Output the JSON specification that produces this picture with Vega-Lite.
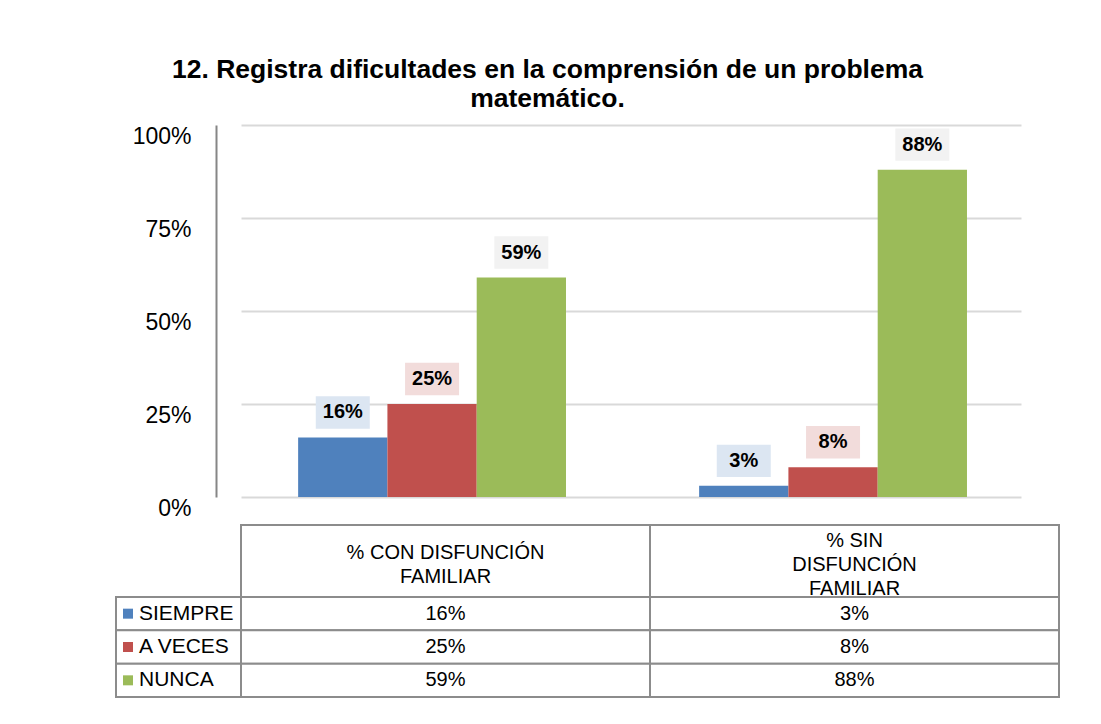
{
  "$schema": "https://vega.github.io/schema/vega-lite/v6.json",
  "padding": {"left": 115, "top": 56, "right": 40, "bottom": 20},
  "background": "white",
  "title": {
    "text": ["12. Registra dificultades en la comprensión de un problema", "matemático."],
    "font": "Liberation Sans",
    "fontSize": 26.5,
    "fontWeight": "bold",
    "color": "black",
    "lineHeight": 29,
    "anchor": "middle",
    "dx": -40,
    "offset": 13
  },
  "datasets": {
    "d": [
      {"grupo": "% CON DISFUNCIÓN\nFAMILIAR", "serie": "SIEMPRE", "valor": 0.16},
      {"grupo": "% CON DISFUNCIÓN\nFAMILIAR", "serie": "A VECES", "valor": 0.25},
      {"grupo": "% CON DISFUNCIÓN\nFAMILIAR", "serie": "NUNCA", "valor": 0.59},
      {"grupo": "% SIN\nDISFUNCIÓN\nFAMILIAR", "serie": "SIEMPRE", "valor": 0.03},
      {"grupo": "% SIN\nDISFUNCIÓN\nFAMILIAR", "serie": "A VECES", "valor": 0.08},
      {"grupo": "% SIN\nDISFUNCIÓN\nFAMILIAR", "serie": "NUNCA", "valor": 0.88}
    ]
  },
  "columns": 2,
  "spacing": 0,
  "bounds": "flush",
  "concat": [
    {"width": 125, "height": 400, "data": {"values": []}, "mark": {"type": "rect", "opacity": 0}, "encoding": {}},
    {
      "width": 780,
      "height": 400,
      "data": {"name": "d"},
      "encoding": {
        "x": {"field": "grupo", "type": "nominal", "sort": null, "axis": null,
              "scale": {"paddingInner": 0.332, "paddingOuter": 0.1386, "align": 0.514}},
        "xOffset": {"field": "serie", "type": "nominal", "sort": null,
                    "scale": {"paddingInner": 0, "paddingOuter": 0}},
        "y": {"field": "valor", "type": "quantitative",
              "scale": {"domain": [0, 1], "range": [372, 0], "nice": false},
              "axis": {"values": [0, 0.25, 0.5, 0.75, 1], "format": ".0%", "title": null,
                       "offset": 25, "ticks": false, "labelPadding": 25, "labelFontSize": 23,
                       "labelFont": "Liberation Sans", "labelColor": "black", "labelBaseline": "top",
                       "domainColor": "#868686", "domainWidth": 2,
                       "grid": true, "gridColor": "#d9d9d9", "gridWidth": 2}}
      },
      "layer": [
        {"mark": {"type": "bar"},
         "encoding": {"color": {"field": "serie", "type": "nominal", "sort": null, "legend": null,
                                "scale": {"domain": ["SIEMPRE", "A VECES", "NUNCA"], "range": ["#4f81bd", "#c0504d", "#9bbb59"]}}}},
        {"mark": {"type": "point", "shape": "M-1,-0.6L1,-0.6L1,0.6L-1,0.6Z", "size": 2916, "filled": true, "opacity": 1, "strokeWidth": 0, "yOffset": -25},
         "encoding": {"fill": {"field": "serie", "type": "nominal", "legend": null,
                               "scale": {"domain": ["SIEMPRE", "A VECES", "NUNCA"], "range": ["#dce6f2", "#f2dcdb", "#f2f2f2"]}}}},
        {"mark": {"type": "text", "fontSize": 20, "fontWeight": "bold", "font": "Liberation Sans", "baseline": "middle", "color": "black", "yOffset": -25},
         "encoding": {"text": {"field": "valor", "type": "quantitative", "format": ".0%"}}}
      ]
    },
    {"width": 125, "height": 72, "data": {"values": []}, "mark": {"type": "rect", "opacity": 0}, "encoding": {}},
    {
      "width": 818,
      "height": 72,
      "data": {"name": "d"},
      "transform": [{"filter": {"field": "serie", "equal": "SIEMPRE"}}],
      "encoding": {
        "x": {"field": "grupo", "type": "nominal", "sort": null, "axis": null,
              "scale": {"paddingInner": 0, "paddingOuter": 0}}
      },
      "layer": [
        {"mark": {"type": "rect", "fill": "white", "stroke": "#8c8c8c", "strokeWidth": 2}},
        {"transform": [{"filter": {"field": "grupo", "equal": "% CON DISFUNCIÓN\nFAMILIAR"}}],
         "mark": {"type": "text", "fontSize": 20, "font": "Liberation Sans", "color": "black", "lineBreak": "\n", "lineHeight": 24, "baseline": "middle", "dy": -8},
         "encoding": {"text": {"field": "grupo", "type": "nominal"}}},
        {"transform": [{"filter": {"field": "grupo", "equal": "% SIN\nDISFUNCIÓN\nFAMILIAR"}}],
         "mark": {"type": "text", "fontSize": 20, "font": "Liberation Sans", "color": "black", "lineBreak": "\n", "lineHeight": 24, "baseline": "middle", "dy": -20},
         "encoding": {"text": {"field": "grupo", "type": "nominal"}}}
      ]
    },
    {
      "width": 125,
      "height": 100,
      "data": {"name": "d"},
      "transform": [{"filter": {"field": "grupo", "equal": "% CON DISFUNCIÓN\nFAMILIAR"}}],
      "encoding": {
        "y": {"field": "serie", "type": "nominal", "sort": null, "axis": null,
              "scale": {"paddingInner": 0, "paddingOuter": 0}}
      },
      "layer": [
        {"mark": {"type": "rect", "fill": "white", "stroke": "#8c8c8c", "strokeWidth": 2}},
        {"mark": {"type": "point", "shape": "square", "size": 100, "filled": true, "opacity": 1, "strokeWidth": 0, "xOffset": -50.5},
         "encoding": {"color": {"field": "serie", "type": "nominal", "sort": null, "legend": null,
                                "scale": {"domain": ["SIEMPRE", "A VECES", "NUNCA"], "range": ["#4f81bd", "#c0504d", "#9bbb59"]}}}},
        {"mark": {"type": "text", "fontSize": 21, "font": "Liberation Sans", "color": "black", "align": "left", "baseline": "middle", "dx": -39.5},
         "encoding": {"text": {"field": "serie", "type": "nominal"}}}
      ]
    },
    {
      "width": 818,
      "height": 100,
      "data": {"name": "d"},
      "encoding": {
        "x": {"field": "grupo", "type": "nominal", "sort": null, "axis": null,
              "scale": {"paddingInner": 0, "paddingOuter": 0}},
        "y": {"field": "serie", "type": "nominal", "sort": null, "axis": null,
              "scale": {"paddingInner": 0, "paddingOuter": 0}}
      },
      "layer": [
        {"mark": {"type": "rect", "fill": "white", "stroke": "#8c8c8c", "strokeWidth": 2}},
        {"mark": {"type": "text", "fontSize": 20, "font": "Liberation Sans", "color": "black", "baseline": "middle"},
         "encoding": {"text": {"field": "valor", "type": "quantitative", "format": ".0%"}}}
      ]
    }
  ],
  "config": {
    "view": {"stroke": null},
    "font": "Liberation Sans"
  }
}
